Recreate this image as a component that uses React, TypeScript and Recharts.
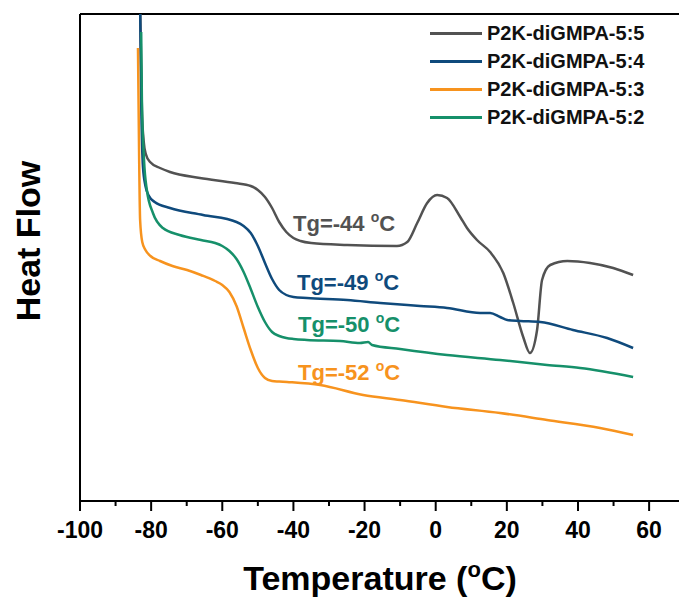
import React from 'react';
import { LineChart, Line, XAxis, YAxis, ReferenceLine, ReferenceDot, Legend } from 'recharts';

const FONT = '"Liberation Sans", Arial, Helvetica, sans-serif';

// Temperature (°C) / heat flow (a.u.)
const s55Temp = [-83.1, -82.6, -82.1, -81.5, -80.3, -77.5, -74.7, -66.3, -56.4, -52.0, -50.0, -48.0, -46.0, -44.0, -42.0, -40.0, -38.0, -35.0, -24.9, -10.9, -8.0, -5.2, -2.4, 0.4, 3.2, 6.9, 8.8, 11.6, 15.3, 19.0, 21.8, 24.6, 26.5, 28.5, 29.9, 32.2, 37.0, 43.4, 49.9, 55.5];
const s55Flow = [49.6, 39.1, 36.0, 34.7, 33.9, 33.3, 32.9, 32.3, 31.8, 31.5, 31.1, 30.4, 29.3, 27.9, 26.9, 26.3, 26.0, 25.8, 25.6, 25.5, 25.9, 27.8, 29.8, 30.6, 30.3, 28.4, 27.3, 26.1, 24.9, 22.8, 19.8, 16.4, 14.8, 17.1, 22.1, 23.6, 24.0, 23.8, 23.3, 22.6];

const s54Temp = [-83.1, -82.8, -82.3, -81.6, -80.6, -79.0, -74.7, -65.4, -56.0, -54.0, -52.0, -50.0, -48.0, -46.0, -44.0, -42.0, -40.0, -36.2, -24.9, -15.6, -4.4, 3.2, 12.5, 15.3, 18.1, 20.1, 23.7, 29.4, 38.6, 48.2, 55.5];
const s54Flow = [49.6, 40.1, 33.4, 31.5, 30.5, 29.9, 29.3, 28.6, 27.9, 27.5, 26.8, 25.5, 23.8, 22.2, 21.1, 20.6, 20.4, 20.3, 20.1, 19.8, 19.5, 19.3, 18.8, 18.8, 18.4, 18.1, 18.0, 17.9, 17.1, 16.3, 15.3];

const s53Temp = [-83.7, -83.4, -83.1, -82.5, -81.6, -80.2, -77.5, -74.0, -69.9, -66.0, -62.0, -60.0, -58.0, -56.0, -54.0, -52.0, -50.0, -48.0, -46.0, -44.0, -41.8, -32.5, -20.4, -10.0, 3.2, 18.1, 31.3, 46.2, 55.5];
const s53Flow = [45.3, 35.1, 28.1, 25.9, 25.1, 24.5, 24.0, 23.5, 23.1, 22.6, 22.0, 21.6, 20.9, 19.5, 17.3, 15.1, 13.3, 12.3, 12.0, 11.95, 11.9, 11.6, 10.6, 10.1, 9.4, 8.8, 8.1, 7.3, 6.6];

const s52Temp = [-82.8, -82.6, -82.0, -81.2, -79.5, -76.7, -72.0, -66.0, -62.0, -60.0, -58.0, -56.0, -54.0, -52.0, -50.0, -48.0, -46.0, -44.0, -42.0, -40.0, -36.2, -26.9, -21.3, -19.0, -17.9, -10.0, 3.2, 18.1, 31.3, 40.6, 55.5];
const s52Flow = [46.9, 40.1, 34.1, 31.1, 28.8, 27.3, 26.6, 26.1, 25.8, 25.5, 25.0, 24.2, 22.9, 21.2, 19.4, 17.9, 16.9, 16.5, 16.3, 16.2, 16.1, 16.0, 15.8, 15.9, 15.6, 15.2, 14.6, 14.1, 13.6, 13.3, 12.4];

const xTicks = [-100, -90, -80, -70, -60, -50, -40, -30, -20, -10, 0, 10, 20, 30, 40, 50, 60];

const seriesNames = ['P2K-diGMPA-5:5', 'P2K-diGMPA-5:4', 'P2K-diGMPA-5:3', 'P2K-diGMPA-5:2'];
const seriesColors = ['#525252', '#0f4a7c', '#f7931e', '#16906a'];

// Tg annotations: text value, anchor temperature, anchor heat flow
const tgValues = ['-44', '-49', '-52', '-50'];
const tgTemp = [-40.1, -39.0, -38.7, -38.7];
const tgFlow = [27.0, 21.1, 12.1, 16.9];

const zip = (t: number[], f: number[]) => t.map((x, i) => ({ x, y: f[i] }));
const seriesData = [zip(s55Temp, s55Flow), zip(s54Temp, s54Flow), zip(s53Temp, s53Flow), zip(s52Temp, s52Flow)];

const XTick = (props: any) => {
  const { x, y, payload } = props;
  const major = payload.value % 20 === 0;
  return (
    <g>
      <line x1={x} x2={x} y1={y} y2={y + (major ? 10 : 5)} stroke="#000" strokeWidth={2} />
      {major && (
        <text x={x} y={y + 37} textAnchor="middle" fontSize={23} fontWeight="bold" fill="#000" fontFamily={FONT}>
          {payload.value}
        </text>
      )}
    </g>
  );
};

const XTitle = () => (
  <text x={380} y={590} textAnchor="middle" fontSize={34} fontWeight="bold" fill="#000" fontFamily={FONT}>
    Temperature (<tspan fontSize={22} dy={-13}>o</tspan><tspan dy={13}>C)</tspan>
  </text>
);

const YTitle = () => (
  <text x={40} y={241} transform="rotate(-90, 40, 241)" textAnchor="middle" fontSize={34} fontWeight="bold" fill="#000" fontFamily={FONT}>
    Heat Flow
  </text>
);

const LegendBox = () => (
  <div style={{ fontFamily: FONT }}>
    {seriesNames.map((n, i) => (
      <div key={n} style={{ display: 'flex', alignItems: 'center', height: 28 }}>
        <div style={{ width: 52, height: 3, background: seriesColors[i], marginRight: 5 }} />
        <span style={{ fontSize: 20, fontWeight: 'bold', color: '#111', lineHeight: '28px' }}>{n}</span>
      </div>
    ))}
  </div>
);

export default function App() {
  return (
    <div style={{ position: 'absolute', left: 0, top: 0, width: 679, height: 599, background: '#fff' }}>
      <LineChart width={679} height={599} margin={{ top: 14, right: 0, bottom: 0, left: 0 }}>
        <XAxis
          type="number"
          dataKey="x"
          domain={[-100, 68.4]}
          ticks={xTicks}
          interval={0}
          height={98}
          tickSize={0}
          tickMargin={0}
          tickLine={false}
          tick={XTick}
          axisLine={{ stroke: '#000', strokeWidth: 2 }}
          allowDataOverflow
          label={XTitle}
        />
        <YAxis
          type="number"
          dataKey="y"
          domain={[0, 48.7]}
          width={80}
          tick={false}
          tickLine={false}
          axisLine={{ stroke: '#000', strokeWidth: 2 }}
          allowDataOverflow
          label={YTitle}
        />
        <ReferenceLine y={48.7} stroke="#000" strokeWidth={2} ifOverflow="visible" />
        {seriesData.map((d, i) => (
          <Line
            key={seriesNames[i]}
            name={seriesNames[i]}
            data={d}
            dataKey="y"
            type="monotone"
            stroke={seriesColors[i]}
            strokeWidth={2.5}
            dot={false}
            activeDot={false}
            isAnimationActive={false}
          />
        ))}
        {tgValues.map((v, i) => (
          <ReferenceDot
            key={v}
            x={tgTemp[i]}
            y={tgFlow[i]}
            r={0}
            ifOverflow="visible"
            shape={(p: any) => (
              <text x={p.cx} y={p.cy} fontSize={22} fontWeight="bold" fill={seriesColors[i]} fontFamily={FONT}>
                Tg={v} <tspan fontSize={14} dy={-9}>o</tspan><tspan dy={9}>C</tspan>
              </text>
            )}
          />
        ))}
        <Legend
          layout="vertical"
          align="center"
          verticalAlign="middle"
          wrapperStyle={{ top: 19, left: 430, width: 240, height: 112 }}
          content={LegendBox}
        />
      </LineChart>
    </div>
  );
}
